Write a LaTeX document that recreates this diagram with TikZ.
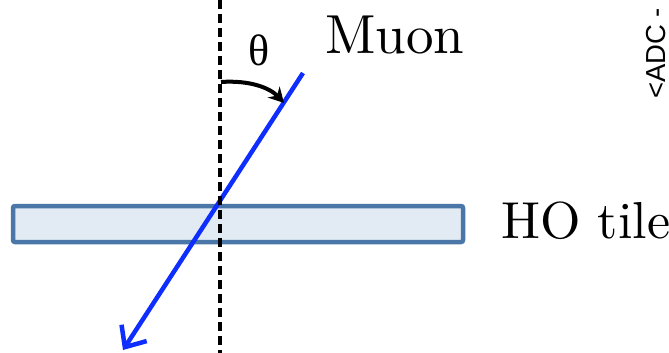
\documentclass[tikz,border=0pt]{standalone}
\usepackage{fontspec}
\newfontfamily\grkfont{Liberation Serif}
\newfontfamily\lmten{lmroman10-regular.otf}
\newfontfamily\adcfont{Liberation Sans}
\usetikzlibrary{arrows.meta}
\definecolor{tilefill}{HTML}{E2EAF4}
\definecolor{tileedge}{HTML}{4A76A8}
\definecolor{muonblue}{HTML}{0D2EFF}
\tikzset{
  tilebox/.style={draw=tileedge, fill=tilefill, line width=4.5pt, rounded corners=2pt, minimum width=450pt, minimum height=36pt, inner sep=0pt},
  axisline/.style={line width=4.5pt, dash pattern=on 9pt off 5pt},
  muonline/.style={draw=muonblue, line width=4.5pt, -{Straight Barb[length=17pt,width=30pt,line width=4.5pt]}},
  anglearrow/.style={line width=4pt, -{Stealth[length=15pt,width=16pt]}},
  bigtext/.style={font=\lmten\fontsize{55}{66}\selectfont, inner sep=0pt},
}
\begin{document}
\begin{tikzpicture}[x=1pt,y=-1pt]
\useasboundingbox (0,0) rectangle (669,353);
\node[tilebox] (tile) at (238,224) {};
\coordinate (mstart) at (303,73);
\coordinate (mend) at (123,350);
\draw[muonline] (mstart) -- (mend);
\coordinate (atop) at (220,0);
\coordinate (abot) at (220,353);
\draw[axisline] (atop) -- (abot);
\coordinate (arcA) at (221,82);
\coordinate (arcB) at (284,103);
\draw[anglearrow] (arcA) .. controls (250,80) and (270,88) .. (arcB);
\node[inner sep=0pt, font=\grkfont\fontsize{44}{50}\selectfont] (theta) at (259,50) {θ};
\node[bigtext, anchor=base west] (muon) at (325,53) {Muon};
\node[bigtext, font=\lmten\fontsize{52}{62}\selectfont, anchor=base west] (ho) at (501,238) {HO tile};
\node[font=\adcfont\fontsize{27.5}{30}\selectfont, rotate=90, anchor=base west, inner sep=0pt] (adc) at (665,99) {<ADC - };
\end{tikzpicture}
\end{document}
